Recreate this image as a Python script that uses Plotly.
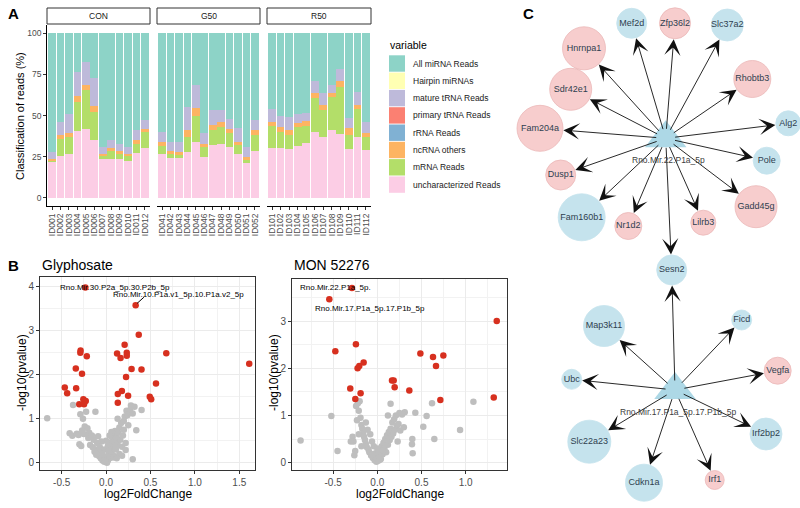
import plotly.graph_objects as go

W, H = 800, 508
FONT = "Liberation Sans, Arial, Helvetica, sans-serif"

# ---------------- Panel A data ----------------
con_ids = ["ID001", "ID002", "ID003", "ID004", "ID005", "ID006", "ID007", "ID008", "ID009", "ID010", "ID011", "ID012"]
g50_ids = ["ID041", "ID042", "ID043", "ID044", "ID045", "ID046", "ID047", "ID048", "ID049", "ID050", "ID051", "ID052"]
r50_ids = ["ID101", "ID102", "ID103", "ID104", "ID105", "ID106", "ID107", "ID108", "ID109", "ID110", "ID111", "ID112"]
facet_names = ["CON", "G50", "R50"]

classes = ["All miRNA Reads", "Hairpin miRNAs", "mature tRNA Reads", "primary tRNA Reads",
           "rRNA Reads", "ncRNA others", "mRNA Reads", "uncharacterized Reads"]
class_colors = ["#8DD3C7", "#FFFFB3", "#BEBADA", "#FB8072", "#80B1D3", "#FDB462", "#B3DE69", "#FCCDE5"]

# percentages per sample
uncharacterized_con = [21.8, 25.7, 26.9, 40.4, 41.8, 35.2, 23.6, 23.8, 23.8, 22.6, 27.3, 30.3]
mrna_con = [1.0, 10.1, 10.1, 17.8, 23.5, 17.3, 2.1, 4.5, 3.1, 2.7, 5.7, 9.7]
ncrna_con = [0.8, 2.2, 2.4, 3.8, 3.4, 3.5, 1.2, 2.0, 1.4, 1.6, 2.0, 2.0]
rrna_con = [0, 0, 0, 0, 0, 0, 0, 0, 0, 0, 0, 0]
primary_con = [0, 0, 0, 0, 0, 0, 0, 0, 0, 0, 0, 0]
mature_con = [4.1, 8.0, 11.6, 14.4, 13.9, 17.0, 3.8, 5.1, 4.7, 3.8, 6.0, 5.5]
hairpin_con = [0, 0, 0, 0, 0, 0, 0, 0, 0, 0, 0, 0]
mirna_con = [72.3, 54.0, 49.0, 23.6, 17.4, 27.0, 69.3, 64.6, 67.0, 69.3, 59.0, 52.5]

uncharacterized_g50 = [26.9, 24.4, 24.0, 27.7, 34.3, 24.6, 32.3, 32.9, 30.9, 26.9, 21.2, 28.3]
mrna_g50 = [4.8, 2.3, 2.3, 9.3, 15.2, 6.3, 9.1, 10.1, 8.5, 5.0, 2.4, 10.1]
ncrna_g50 = [2.6, 1.6, 1.7, 4.4, 5.0, 1.8, 3.0, 3.0, 2.4, 1.8, 1.2, 2.6]
rrna_g50 = [0, 0, 0, 0, 0, 0, 0, 0, 0, 0, 0, 0]
primary_g50 = [0, 0, 0, 0, 0, 0, 0, 0, 0, 0, 0, 0]
mature_g50 = [5.7, 6.0, 6.0, 13.6, 14.2, 6.7, 9.1, 7.5, 6.1, 8.7, 5.9, 6.5]
hairpin_g50 = [0, 0, 0, 0, 0, 0, 0, 0, 0, 0, 0, 0]
mirna_g50 = [60.0, 65.7, 66.0, 45.0, 31.3, 60.6, 46.5, 46.5, 52.1, 57.6, 69.3, 52.5]

uncharacterized_r50 = [30.2, 30.2, 29.6, 31.8, 33.2, 40.3, 37.2, 41.3, 38.9, 29.6, 36.8, 29.1]
mrna_r50 = [13.5, 10.1, 8.7, 11.1, 10.5, 20.6, 16.2, 19.8, 28.3, 8.7, 17.0, 8.1]
ncrna_r50 = [2.7, 2.6, 3.0, 2.4, 3.3, 3.1, 3.1, 2.5, 3.8, 4.0, 2.7, 2.5]
rrna_r50 = [0, 0, 0, 0, 0, 0, 0, 0, 0, 0, 0, 0]
primary_r50 = [0, 0, 0, 0, 0, 0, 0, 0, 0, 0, 0, 0]
mature_r50 = [7.4, 6.9, 8.1, 5.7, 4.8, 7.0, 7.5, 5.0, 7.1, 6.1, 8.1, 6.7]
hairpin_r50 = [0, 0, 0, 0, 0, 0, 0, 0, 0, 0, 0, 0]
mirna_r50 = [46.2, 50.2, 50.6, 49.0, 48.2, 29.0, 36.0, 31.4, 21.9, 51.6, 35.4, 53.6]

a_ticks = [0, 25, 50, 75, 100]

# ---------------- Panel B data ----------------
gly_sig_x = [-0.233, 0.333, 0.368, 0.678, 1.612, 0.209, 0.124, 0.163, 0.233, 0.233, -0.287, -0.290,
             -0.217, -0.341, -0.271, 0.287, 0.399, 0.225, -0.465, -0.438, -0.337, 0.562, 0.178, 0.132,
             0.248, 0.132, 0.492, 0.508, -0.256, -0.229, -0.302, -0.248]
gly_sig_y = [3.98, 3.58, 2.91, 2.49, 2.25, 2.68, 2.48, 2.38, 2.50, 2.43, 2.55, 2.50,
             2.42, 2.14, 2.02, 2.13, 2.12, 1.95, 1.71, 1.58, 1.69, 1.80, 1.63, 1.56,
             1.52, 1.36, 1.50, 1.44, 1.44, 1.40, 1.33, 1.33]
gly_ns_x = [-0.663, -0.372, -0.41, -0.38, -0.33, -0.30, -0.28, -0.27, -0.26, -0.29, -0.225, -0.24,
            -0.21, -0.20, -0.19, -0.18, -0.16, -0.15, -0.14, -0.12, -0.12, -0.10, -0.10, -0.09,
            -0.08, -0.07, -0.06, -0.05, -0.04, -0.03, -0.02, -0.01, 0.0, 0.01, 0.02, 0.03, 0.04,
            0.05, 0.05, 0.06, 0.07, 0.07, 0.08, 0.09, 0.09, 0.10, 0.10, 0.11, 0.12, 0.13, 0.13,
            0.14, 0.15, 0.15, 0.16, 0.17, 0.18, 0.19, 0.20, 0.20, 0.21, 0.22, 0.22, 0.23, 0.24,
            0.25, 0.26, 0.27, 0.28, 0.30, 0.32, 0.34, 0.30, 0.40, 0.18, -0.31, -0.25, -0.02, 0.0,
            0.02, -0.05, 0.06, 0.04, -0.13, -0.11, -0.04, 0.03, 0.08, 0.12, 0.01, -0.01, 0.11]
gly_ns_y = [1.01, 1.31, 0.67, 0.61, 0.66, 0.42, 0.38, 0.73, 1.00, 1.10, 1.16, 0.82,
            0.78, 0.56, 0.68, 0.40, 0.62, 0.35, 0.52, 1.16, 0.30, 0.45, 0.22, 0.60,
            0.15, 0.35, 0.10, 0.25, 0.05, 0.14, 0.02, 0.08, 0.03, 0.12, 0.05, 0.20, 0.10,
            0.32, 0.45, 0.18, 0.55, 0.28, 0.40, 0.62, 0.15, 0.48, 0.72, 0.30, 0.58, 0.42, 1.00,
            0.68, 0.80, 0.20, 0.52, 0.90, 0.36, 0.62, 0.95, 0.75, 1.05, 0.45, 0.29, 1.18, 1.08,
            0.85, 1.15, 1.20, 1.30, 1.12, 1.27, 0.74, 0.08, 1.20, 0.16, 0.63, 0.65, 0.30, 0.50,
            0.38, 0.48, 0.70, 0.62, 0.25, 0.18, 0.20, 0.28, 0.12, 0.10, 0.00, 0.04, 0.36]

mon_sig_x = [-0.287, -0.543, 1.351, -0.475, -0.242, -0.155, -0.204, -0.223, 0.487, 0.630, 0.747,
             0.664, 0.166, 0.185, 0.196, 0.362, -0.306, -0.189, -0.249, 1.317, 0.713]
mon_sig_y = [3.70, 3.46, 3.00, 2.36, 2.51, 2.12, 2.05, 2.00, 2.31, 2.24, 2.27,
             2.05, 1.74, 1.74, 1.60, 1.53, 1.57, 1.47, 1.35, 1.38, 1.33]
mon_ns_x = [-0.868, -0.52, -0.45, 1.087, 0.936, 0.619, 0.558, 0.52, 0.645, 0.43, 0.31, 0.396, 0.392,
            0.40, -0.27, -0.25, -0.26, -0.24, -0.22, -0.20, -0.21, -0.19, -0.18, -0.17, -0.16, -0.15,
            -0.14, -0.13, -0.12, -0.11, -0.10, -0.09, -0.08, -0.07, -0.06, -0.05, -0.04, -0.03, -0.02,
            -0.01, 0.0, 0.01, 0.02, 0.03, 0.04, 0.05, 0.06, 0.07, 0.08, 0.09, 0.10, 0.11, 0.12, 0.13,
            0.14, 0.15, 0.16, 0.17, 0.18, 0.19, 0.20, 0.21, 0.22, 0.23, 0.24, 0.25, 0.26, 0.15, 0.12,
            0.28, -0.23, -0.21, -0.28, -0.30, -0.18, -0.13, 0.30, 0.0, -0.02, 0.03, 0.06, -0.05]
mon_ns_y = [0.47, 0.99, 0.25, 1.29, 0.69, 1.26, 0.99, 0.76, 0.50, 1.06, 1.07, 0.50, 0.39,
            0.20, 0.45, 0.25, 0.16, 1.20, 1.26, 1.30, 1.10, 0.95, 0.80, 0.72, 0.62, 0.55,
            0.48, 0.40, 0.33, 0.70, 0.28, 0.22, 0.60, 0.15, 0.45, 0.10, 0.35, 0.05, 0.20,
            0.02, 0.10, 0.04, 0.15, 0.25, 0.08, 0.35, 0.18, 0.42, 0.30, 0.50, 0.22, 0.58, 0.38, 0.65,
            0.48, 0.72, 0.55, 0.85, 0.62, 0.92, 0.70, 1.00, 0.78, 0.45, 0.82, 1.05, 0.68, 1.25, 1.00,
            1.02, 0.90, 0.60, 0.55, 0.45, 0.35, 0.85, 0.75, 0.30, 0.12, 0.06, 0.26, 0.18]

gly_labels = ["Rno.Mir.30.P2a_5p.30.P2b_5p", "Rno.Mir.10.P1a.v1_5p.10.P1a.v2_5p"]
gly_label_pos = [(0.10, 3.98), (0.81, 3.83)]
mon_labels = ["Rno.Mir.22.P1a_5p.", "Rno.Mir.17.P1a_5p.17.P1b_5p"]
mon_label_pos = [(-0.475, 3.70), (-0.08, 3.27)]

# ---------------- Panel C data (network layout, pixel space) ----------------
hub_names = ["Rno.Mir.22.P1a_5p", "Rno.Mir.17.P1a_5p.17.P1b_5p"]
hub_x = [665.7, 675.0]
hub_y = [138.3, 390.0]

node_names = ["Mef2d", "Zfp36l2", "Slc37a2", "Hnrnpa1", "Rhobtb3", "Sdr42e1", "Alg2", "Fam204a",
              "Pole", "Dusp1", "Gadd45g", "Fam160b1", "Nr1d2", "Lilrb3", "Sesn2", "Map3k11",
              "Ficd", "Vegfa", "Ubc", "Irf2bp2", "Slc22a23", "Cdkn1a", "Irf1"]
node_x = [631.7, 675.0, 727.3, 584.0, 752.3, 570.7, 788.3, 540.0, 766.7, 560.7, 756.0, 581.7,
          628.3, 703.3, 671.7, 604.0, 741.7, 777.7, 571.7, 766.0, 589.3, 644.0, 714.7]
node_y = [23.3, 23.3, 25.0, 48.3, 79.0, 89.3, 123.3, 128.3, 160.7, 175.0, 206.7, 217.3,
          226.0, 222.7, 270.0, 326.0, 320.0, 370.7, 379.3, 434.0, 441.7, 482.7, 480.0]
node_size = [30, 31, 32, 43, 37, 42, 25, 46, 27, 30, 42, 47, 27, 25, 30, 41, 20, 27, 20, 32, 43, 37, 19]
node_up = [False, True, False, True, True, True, False, True, False, True, True, False,
           True, True, False, False, False, True, False, False, False, False, True]
edges_from = [0] * 15 + [1] * 9
edges_to = ["Mef2d", "Zfp36l2", "Slc37a2", "Hnrnpa1", "Rhobtb3", "Sdr42e1", "Alg2", "Fam204a",
            "Pole", "Dusp1", "Gadd45g", "Fam160b1", "Nr1d2", "Lilrb3", "Sesn2",
            "Sesn2", "Map3k11", "Ficd", "Vegfa", "Ubc", "Irf2bp2", "Slc22a23", "Cdkn1a", "Irf1"]

# ---------------- helpers ----------------
def pxx(x):
    return x / W


def pxy(y):
    return 1 - y / H


annotations = []
shapes = []


def add_text(text, x, y, size, color="black", xref="paper", yref="paper", xanchor="center",
             yanchor="middle", angle=0):
    annotations.append(dict(x=x, y=y, xref=xref, yref=yref, text=text, showarrow=False,
                            xanchor=xanchor, yanchor=yanchor, textangle=angle,
                            font=dict(size=size, color=color, family=FONT)))


fig = go.Figure()

# ---------------- Panel A ----------------
facets = [
    ("x", con_ids, [uncharacterized_con, mrna_con, ncrna_con, rrna_con, primary_con, mature_con, hairpin_con, mirna_con]),
    ("x2", g50_ids, [uncharacterized_g50, mrna_g50, ncrna_g50, rrna_g50, primary_g50, mature_g50, hairpin_g50, mirna_g50]),
    ("x3", r50_ids, [uncharacterized_r50, mrna_r50, ncrna_r50, rrna_r50, primary_r50, mature_r50, hairpin_r50, mirna_r50]),
]
stack_order = [7, 6, 5, 4, 3, 2, 1, 0]  # class index from bottom to top
for xa, ids, series in facets:
    for k, ci in enumerate(stack_order):
        fig.add_trace(go.Bar(x=ids, y=series[k], xaxis=xa, yaxis="y",
                             marker=dict(color=class_colors[ci], line=dict(width=0)),
                             name=classes[ci], showlegend=False, width=0.9))

facet_px = [(47, 150), (157, 260), (267, 371)]
facet_ids = [con_ids, g50_ids, r50_ids]
y_dom_a = [pxy(206.2), pxy(25.1)]
axis_common_a = dict(type="category", range=[-0.6, 11.6], showline=True, linecolor="black", linewidth=0.8,
                     ticks="outside", ticklen=3, tickcolor="#333", tickangle=-90,
                     tickfont=dict(size=8.5, color="#4D4D4D", family=FONT), showgrid=False, zeroline=False,
                     anchor="y", fixedrange=True)
layout_axes = {}
for i, (x0, x1) in enumerate(facet_px):
    key = "xaxis" if i == 0 else f"xaxis{i + 1}"
    layout_axes[key] = dict(axis_common_a, domain=[pxx(x0), pxx(x1)], tickmode="array",
                            tickvals=facet_ids[i], ticktext=facet_ids[i])
    shapes.append(dict(type="rect", xref="paper", yref="paper", x0=pxx(x0), x1=pxx(x1),
                       y0=pxy(24), y1=pxy(8), line=dict(color="#333", width=1), fillcolor="white"))
    add_text(facet_names[i], pxx((x0 + x1) / 2), pxy(16), 8.5, "#1A1A1A")
layout_axes["yaxis"] = dict(domain=y_dom_a, range=[-5, 105], anchor="x", tickvals=a_ticks,
                            showline=True, linecolor="black", linewidth=0.8, ticks="outside", ticklen=3,
                            tickcolor="#333", tickfont=dict(size=8.5, color="#4D4D4D", family=FONT),
                            showgrid=False, zeroline=False, title=None)
add_text("Classification of reads (%)", pxx(20), pxy(116), 11, angle=-90)

# legend for A
add_text("variable", pxx(388), pxy(45), 10.5, xanchor="left")
for i, (nm, col) in enumerate(zip(classes, class_colors)):
    yc = 63.5 + i * 17.3
    shapes.append(dict(type="rect", xref="paper", yref="paper", x0=pxx(389), x1=pxx(405),
                       y0=pxy(yc + 8.2), y1=pxy(yc - 8.2), line=dict(width=0), fillcolor=col))
    add_text(nm, pxx(410.5), pxy(yc), 8.5, "#1A1A1A", xanchor="left")

# ---------------- Panel B ----------------
grey_col = "#BEBEBE"
red_col = "#D7301F"
for xa, ya, nsx, nsy, sx, sy in [("x4", "y4", gly_ns_x, gly_ns_y, gly_sig_x, gly_sig_y),
                                 ("x5", "y5", mon_ns_x, mon_ns_y, mon_sig_x, mon_sig_y)]:
    fig.add_trace(go.Scatter(x=nsx, y=nsy, xaxis=xa, yaxis=ya, mode="markers", showlegend=False,
                             marker=dict(color=grey_col, size=6.5, line=dict(width=0))))
    fig.add_trace(go.Scatter(x=sx, y=sy, xaxis=xa, yaxis=ya, mode="markers", showlegend=False,
                             marker=dict(color=red_col, size=6.5, line=dict(width=0))))

bw_axis = dict(showline=True, mirror=True, linecolor="#333", linewidth=1, ticks="outside", ticklen=3,
               tickcolor="#333", tickfont=dict(size=10, color="#4D4D4D", family=FONT),
               showgrid=True, gridcolor="#EBEBEB", gridwidth=1, zeroline=False,
               minor=dict(showgrid=True, gridcolor="#F2F2F2", gridwidth=0.6))
layout_axes["xaxis4"] = dict(bw_axis, domain=[pxx(40), pxx(255)], range=[-0.744, 1.677], anchor="y4",
                             tickvals=[-0.5, 0.0, 0.5, 1.0, 1.5], ticktext=["-0.5", "0.0", "0.5", "1.0", "1.5"],
                             minor=dict(bw_axis["minor"], tickvals=[-0.75, -0.25, 0.25, 0.75, 1.25], ticks=""))
layout_axes["yaxis4"] = dict(bw_axis, domain=[pxy(470), pxy(277)], range=[-0.166, 4.22], anchor="x4",
                             tickvals=[0, 1, 2, 3, 4],
                             minor=dict(bw_axis["minor"], tickvals=[0.5, 1.5, 2.5, 3.5], ticks=""))
layout_axes["xaxis5"] = dict(bw_axis, domain=[pxx(292), pxx(507)], range=[-0.965, 1.467], anchor="y5",
                             tickvals=[-0.5, 0.0, 0.5, 1.0], ticktext=["-0.5", "0.0", "0.5", "1.0"],
                             minor=dict(bw_axis["minor"], tickvals=[-0.75, -0.25, 0.25, 0.75, 1.25], ticks=""))
layout_axes["yaxis5"] = dict(bw_axis, domain=[pxy(470), pxy(279)], range=[-0.155, 3.89], anchor="x5",
                             tickvals=[0, 1, 2, 3],
                             minor=dict(bw_axis["minor"], tickvals=[0.5, 1.5, 2.5, 3.5], ticks=""))

for (xc, titl) in [(40, "Glyphosate"), (292, "MON 52276")]:
    add_text(titl, pxx(xc), pxy(265), 14, xanchor="left")
for (xc, x0) in [(147.5, 40), (399.5, 292)]:
    add_text("log2FoldChange", pxx(xc), pxy(494), 12)
    add_text("-log10(pvalue)", pxx(x0 - 18), pxy(373), 12, angle=-90)

for txt, (lx, ly) in zip(gly_labels, gly_label_pos):
    add_text(txt, lx, ly, 8, xref="x4", yref="y4")
for txt, (lx, ly) in zip(mon_labels, mon_label_pos):
    add_text(txt, lx, ly, 8, xref="x5", yref="y5")
shapes.append(dict(type="line", xref="x4", yref="y4", x0=gly_sig_x[1] + 0.016, y0=gly_sig_y[1] + 0.04,
                   x1=0.426, y1=3.76, line=dict(color="black", width=1)))

# ---------------- Panel C ----------------
layout_axes["xaxis6"] = dict(domain=[pxx(520), 1.0], range=[520, 800], visible=False, anchor="y6", fixedrange=True)
layout_axes["yaxis6"] = dict(domain=[0, 1], range=[508, 0], visible=False, anchor="x6", fixedrange=True)

blue = "#ADD8E6"
pink = "#F4B8B8"
fig.add_trace(go.Scatter(
    x=node_x, y=node_y, xaxis="x6", yaxis="y6", mode="markers+text", text=node_names,
    textposition="middle center", showlegend=False, cliponaxis=False,
    textfont=dict(size=9, color="#2F3F4F", family=FONT),
    marker=dict(size=node_size, color=[pink if u else blue for u in node_up],
                line=dict(color=["#E39A9A" if u else blue for u in node_up], width=0.8))))

idx = {n: i for i, n in enumerate(node_names)}
for h, tgt in zip(edges_from, edges_to):
    j = idx[tgt]
    annotations.append(dict(x=node_x[j], y=node_y[j], ax=hub_x[h], ay=hub_y[h], xref="x6", yref="y6",
                            axref="x6", ayref="y6", showarrow=True, arrowhead=3, arrowsize=3.0,
                            arrowwidth=0.9, arrowcolor="#111", standoff=node_size[j] / 2 + 0.5,
                            startstandoff=8, text=""))

fig.add_trace(go.Scatter(
    x=hub_x, y=hub_y, xaxis="x6", yaxis="y6", mode="markers", showlegend=False, cliponaxis=False,
    marker=dict(symbol="triangle-up", size=36, color=blue, line=dict(width=0))))
for hx, hy, hn in zip(hub_x, hub_y, hub_names):
    add_text(hn, hx + 3, hy + 22, 8.5, "#404040", xref="x6", yref="y6")

# panel letters
for letter, lx, ly in [("A", 13, 14), ("B", 13, 265), ("C", 528, 14)]:
    add_text(f"<b>{letter}</b>", pxx(lx), pxy(ly), 15)

fig.update_layout(
    width=W, height=H, margin=dict(l=0, r=0, t=0, b=0, autoexpand=False),
    paper_bgcolor="white", plot_bgcolor="white",
    barmode="stack", bargap=0.1, showlegend=False,
    font=dict(family=FONT),
    annotations=annotations, shapes=shapes,
    **layout_axes,
)

fig.write_html("out.html", config={"displayModeBar": False},
               post_script="document.body.style.margin='0';document.body.style.padding='0';")
